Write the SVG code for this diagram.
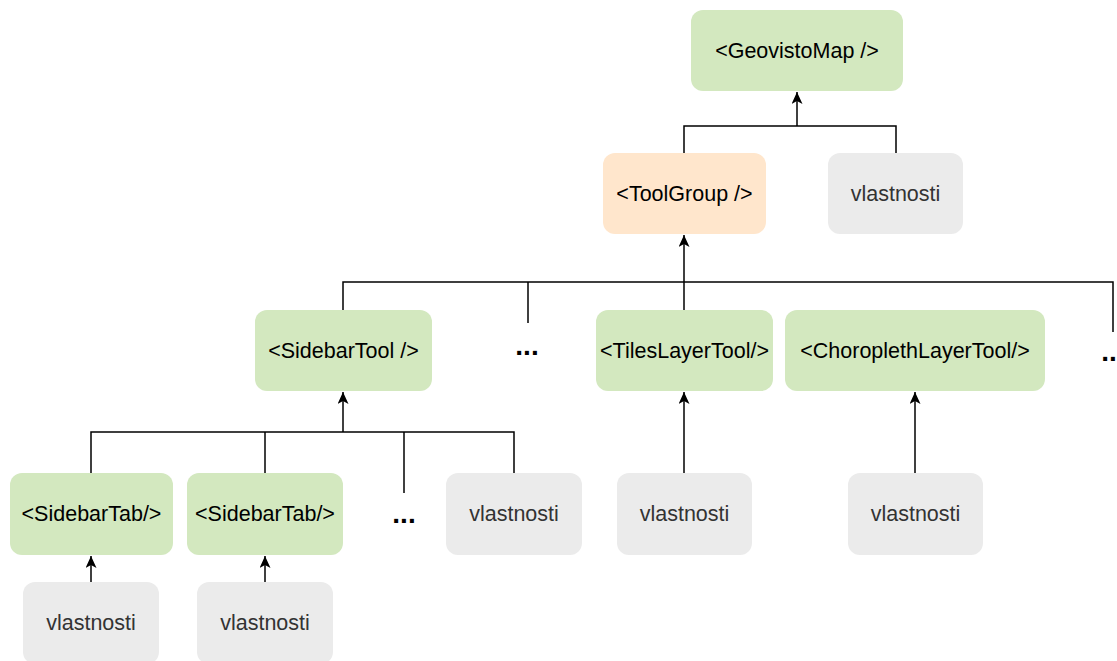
<svg xmlns="http://www.w3.org/2000/svg" width="1117" height="661" viewBox="0 0 1117 661">
<style>
.g{fill:#d3e8bf}
.o{fill:#ffe6cc}
.p{fill:#ebebeb}
text{font-family:"Liberation Sans",Arial,sans-serif;font-size:21.5px;text-anchor:middle;dominant-baseline:central}
.tk{fill:#000}
.tg{fill:#333}
.dots{font-weight:bold;font-size:28px}
.c{fill:none;stroke:#000;stroke-width:1.5}
</style>
<defs>
<marker id="ar" markerWidth="14" markerHeight="12" refX="12" refY="5.5" orient="auto" markerUnits="userSpaceOnUse">
<path d="M0,0 L12,5.5 L0,11 L3,5.5 Z" fill="#000"/>
</marker>
</defs>
<g id="connectors">
<path class="c" d="M684,153 V126 H896 V153"/>
<path class="c" d="M797,126 V92" marker-end="url(#ar)"/>
<path class="c" d="M343,310 V282 H1113 V332"/>
<path class="c" d="M528,282 V323"/>
<path class="c" d="M684,310 V235" marker-end="url(#ar)"/>
<path class="c" d="M91,473 V432 H514 V473"/>
<path class="c" d="M265,432 V473"/>
<path class="c" d="M404,432 V493"/>
<path class="c" d="M343,432 V392" marker-end="url(#ar)"/>
<path class="c" d="M91,582 V556" marker-end="url(#ar)"/>
<path class="c" d="M265,582 V556" marker-end="url(#ar)"/>
<path class="c" d="M684,473 V392" marker-end="url(#ar)"/>
<path class="c" d="M915,473 V392" marker-end="url(#ar)"/>
</g>
<g id="geovistoMap"><rect class="g" x="691" y="10" width="212" height="81" rx="12"/><text class="tk" x="797" y="50.5">&lt;GeovistoMap /&gt;</text></g>
<g id="toolGroup"><rect class="o" x="603" y="153" width="163" height="81" rx="12"/><text class="tk" x="684.5" y="193.5">&lt;ToolGroup /&gt;</text></g>
<g id="vlastnosti0"><rect class="p" x="828" y="153" width="135" height="81" rx="12"/><text class="tg" x="895.5" y="193.5">vlastnosti</text></g>
<g id="sidebarTool"><rect class="g" x="255" y="310" width="177" height="81" rx="12"/><text class="tk" x="343.5" y="350.5">&lt;SidebarTool /&gt;</text></g>
<g id="dots1"><text class="tk dots" x="527" y="345">...</text></g>
<g id="tilesLayerTool"><rect class="g" x="596" y="310" width="177" height="81" rx="12"/><text class="tk" x="684.5" y="350.5">&lt;TilesLayerTool/&gt;</text></g>
<g id="choroplethLayerTool"><rect class="g" x="785" y="310" width="260" height="81" rx="12"/><text class="tk" x="915" y="350.5">&lt;ChoroplethLayerTool/&gt;</text></g>
<g id="dots2"><text class="tk dots" x="1113" y="351">...</text></g>
<g id="sidebarTab1"><rect class="g" x="10" y="473" width="163" height="82" rx="12"/><text class="tk" x="91.5" y="514">&lt;SidebarTab/&gt;</text></g>
<g id="sidebarTab2"><rect class="g" x="187" y="473" width="156" height="82" rx="12"/><text class="tk" x="265" y="514">&lt;SidebarTab/&gt;</text></g>
<g id="dots3"><text class="tk dots" x="404" y="513">...</text></g>
<g id="vlastnosti3"><rect class="p" x="446" y="473" width="136" height="82" rx="12"/><text class="tg" x="514" y="514">vlastnosti</text></g>
<g id="vlastnosti4"><rect class="p" x="617" y="473" width="135" height="82" rx="12"/><text class="tg" x="684.5" y="514">vlastnosti</text></g>
<g id="vlastnosti5"><rect class="p" x="848" y="473" width="135" height="82" rx="12"/><text class="tg" x="915.5" y="514">vlastnosti</text></g>
<g id="vlastnosti1"><rect class="p" x="23" y="582" width="136" height="82" rx="12"/><text class="tg" x="91" y="623">vlastnosti</text></g>
<g id="vlastnosti2"><rect class="p" x="197" y="582" width="136" height="82" rx="12"/><text class="tg" x="265" y="623">vlastnosti</text></g>
</svg>
